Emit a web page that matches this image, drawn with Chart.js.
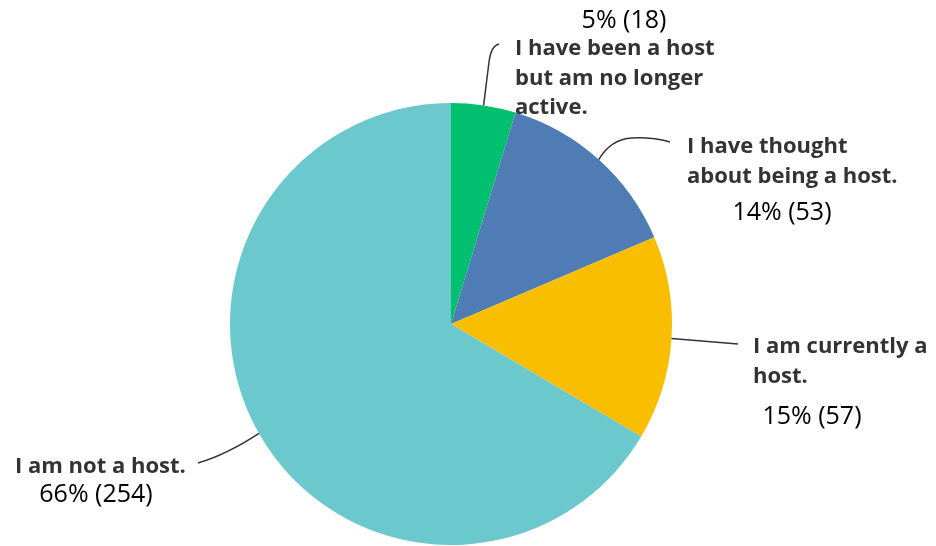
<!DOCTYPE html>
<html>
<head>
<meta charset="utf-8">
<script src="https://cdn.jsdelivr.net/npm/chart.js@4"></script>
<style>
  html, body { margin: 0; padding: 0; background: #ffffff; }
  #wrap { width: 936px; height: 546px; position: relative; }
</style>
</head>
<body>
<div id="wrap"><canvas id="chart" width="936" height="546"></canvas></div>
<script>
// Survey answers, in clockwise order from 12 o'clock
const categories = [
  "I have been a host but am no longer active.",
  "I have thought about being a host.",
  "I am currently a host.",
  "I am not a host."
];
const responses = [18, 53, 57, 254];
const sliceColors = ["#00bf6f", "#507cb6", "#f9be00", "#6bc8cd"];

// Wrapped label lines for each slice
const labelLines = [
  ["I have been a host", "but am no longer", "active."],
  ["I have thought", "about being a host."],
  ["I am currently a", "host."],
  ["I am not a host."]
];

const total = responses.reduce((a, b) => a + b, 0);
const percentText = responses.map(v => Math.round(v / total * 100) + "% (" + v + ")");

// Placement of each label block and the shape of its leader line
const labelLayout = [
  { x: 515, y: 55, pctX: 624, pctY: 28,
    leader: (ctx, p) => { ctx.moveTo(p.x, p.y); ctx.lineTo(489, 62); ctx.quadraticCurveTo(491, 46, 499, 44); } },
  { x: 687, y: 153, pctX: 782, pctY: 220,
    leader: (ctx, p) => { ctx.moveTo(p.x, p.y); ctx.quadraticCurveTo(611, 139, 632, 138); ctx.quadraticCurveTo(652, 137, 670, 142); } },
  { x: 753, y: 353, pctX: 812, pctY: 424,
    leader: (ctx, p) => { ctx.moveTo(p.x, p.y); ctx.lineTo(738, 344); } },
  { x: 15, y: 473, pctX: 96, pctY: 502,
    leader: (ctx, p) => { ctx.moveTo(p.x, p.y); ctx.quadraticCurveTo(226, 455, 198, 463); } }
];

const calloutPlugin = {
  id: "callouts",
  afterDatasetsDraw(chart) {
    const ctx = chart.ctx;
    const arcs = chart.getDatasetMeta(0).data;
    ctx.save();
    arcs.forEach((arc, i) => {
      const mid = (arc.startAngle + arc.endAngle) / 2;
      const start = { x: arc.x + Math.cos(mid) * arc.outerRadius, y: arc.y + Math.sin(mid) * arc.outerRadius };
      const lay = labelLayout[i];

      ctx.beginPath();
      ctx.strokeStyle = "#333333";
      ctx.lineWidth = 1.5;
      lay.leader(ctx, start);
      ctx.stroke();

      ctx.fillStyle = "#333333";
      ctx.font = "bold 22px 'Open Sans'";
      ctx.textAlign = "left";
      ctx.textBaseline = "alphabetic";
      labelLines[i].forEach((line, k) => ctx.fillText(line, lay.x, lay.y + k * 29.5));

      ctx.fillStyle = "#000000";
      ctx.font = "500 25px 'Open Sans'";
      ctx.textAlign = "center";
      ctx.fillText(percentText[i], lay.pctX, lay.pctY);
    });
    ctx.restore();
  }
};

new Chart(document.getElementById("chart"), {
  type: "pie",
  data: {
    labels: categories,
    datasets: [{
      data: responses,
      backgroundColor: sliceColors,
      borderWidth: 0
    }]
  },
  options: {
    responsive: false,
    animation: false,
    layout: { padding: { left: 230, right: 264, top: 103, bottom: 1 } },
    plugins: {
      legend: { display: false },
      tooltip: { enabled: false }
    }
  },
  plugins: [calloutPlugin]
});
</script>
</body>
</html>
